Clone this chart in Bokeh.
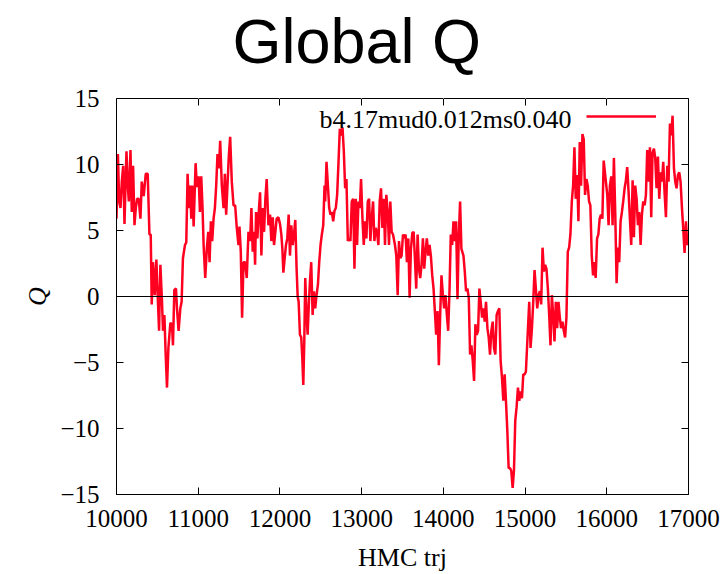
from bokeh.plotting import figure
from bokeh.models import Range1d, Span, Label, Legend, LegendItem, LinearAxis, FixedTicker
from bokeh.embed import file_html
from bokeh.resources import INLINE

# HMC trajectory number and the global topological charge Q
trj = [
    10000, 10017, 10033, 10049, 10065, 10082, 10098, 10110, 10122, 10138,
    10151, 10171, 10187, 10203, 10220, 10236, 10252, 10272, 10293, 10309,
    10333, 10358, 10382, 10403, 10419, 10431, 10447, 10468, 10488, 10504,
    10521, 10537, 10557, 10569, 10586, 10602, 10618, 10635, 10659, 10679,
    10691, 10708, 10728, 10740, 10760, 10781, 10797, 10813, 10838,
    10854, 10870, 10887, 10903, 10915, 10927, 10944, 10968, 10984, 11005,
    11021, 11037, 11053, 11066, 11086, 11106, 11123, 11139, 11155, 11171,
    11188, 11204, 11220, 11236, 11253, 11269, 11289, 11310, 11326, 11342,
    11358, 11375, 11391, 11411, 11432, 11452, 11472, 11493, 11505, 11521,
    11537, 11554, 11574, 11594, 11615, 11635, 11651, 11667, 11684, 11696,
    11708, 11724, 11741, 11757, 11773, 11790, 11806, 11822, 11838, 11859,
    11879, 11895, 11912, 11928, 11944, 11960, 11981, 12001, 12017, 12030,
    12042, 12058, 12074, 12090, 12107, 12123, 12139, 12156, 12172, 12188,
    12204, 12217, 12229, 12245, 12261, 12274, 12286, 12298, 12310, 12326,
    12339, 12355, 12367, 12383, 12400, 12416, 12432, 12448, 12465, 12481,
    12497, 12513, 12530, 12546,
    12554, 12570, 12587, 12603, 12619, 12635, 12652, 12668, 12684, 12700,
    12717, 12733, 12749, 12766, 12782, 12798, 12814, 12831, 12847, 12863,
    12879, 12896, 12912, 12928, 12944, 12961, 12977, 12993, 13010, 13026,
    13042, 13058, 13075, 13091, 13107, 13123, 13140, 13156, 13172, 13188,
    13205, 13221, 13237, 13254, 13270, 13286, 13302, 13319, 13335, 13351,
    13367, 13384,
    13408, 13424, 13441, 13457, 13473, 13489, 13506, 13522, 13538, 13554,
    13571, 13587, 13603, 13620, 13636, 13652, 13668, 13685, 13701, 13717,
    13733, 13750, 13766, 13782, 13798, 13815, 13831, 13847, 13864, 13880,
    13896, 13912, 13929, 13945, 13961, 13977, 13994, 14010, 14026, 14043,
    14059, 14075, 14091, 14108, 14124, 14140, 14156, 14173, 14189, 14205,
    14221,
    14246, 14262, 14278, 14295, 14311, 14327, 14343, 14360, 14376, 14392,
    14408, 14425, 14441, 14457, 14474, 14490, 14506, 14522, 14539, 14555,
    14571, 14587, 14604, 14620, 14636, 14652, 14669, 14685, 14701, 14718,
    14734, 14750, 14766, 14783, 14799, 14815, 14831, 14848, 14864, 14880,
    14896, 14913, 14929, 14945, 14962, 14978, 14994, 15010,
    15051, 15067, 15084, 15100, 15116, 15132, 15149, 15165, 15181, 15197,
    15214, 15230, 15246, 15262, 15279, 15295, 15311, 15328, 15344, 15360,
    15376, 15393, 15409, 15425, 15441, 15458, 15474, 15490, 15506, 15523,
    15539, 15555, 15572, 15588, 15604, 15620, 15637, 15653, 15669, 15685,
    15702, 15718, 15734, 15751, 15767, 15783, 15799, 15816, 15832, 15848,
    15864, 15881, 15897, 15913, 15929, 15946, 15962,
    16006, 16022, 16038, 16055, 16071, 16087, 16104, 16120, 16136, 16152,
    16169, 16185, 16201, 16218, 16234, 16250, 16267, 16283, 16299, 16316,
    16332, 16348, 16365, 16381, 16397, 16414, 16430, 16446, 16463, 16479,
    16495, 16512, 16528, 16544, 16560, 16577, 16593, 16609, 16626, 16642,
    16658, 16675, 16691, 16707, 16724, 16740, 16756, 16773, 16789, 16805,
    16822, 16838, 16854, 16871, 16887, 16903, 16920, 16936, 16952, 16969,
    16985, 17000,
]

charge = [
    5.9, 10.8, 7.2, 6.7, 8.7, 9.9, 5.5, 8.4, 11.0, 8.4,
    7.2, 11.1, 6.4, 9.9, 5.4, 6.7, 7.4, 7.4, 5.9, 8.7,
    7.6, 9.3, 9.3, 4.7, 4.7, -0.6, 2.6, 0.1, 2.8, 0.1,
    -2.6, 2.4, -0.4, -2.6, -1.4, -4.4, -6.9, -3.9, -2.0, -2.1,
    -3.7, 0.5, 0.6, -0.9, -2.6, -0.9, -0.4, 2.9, 3.9,
    4.1, 9.3, 6.7, 8.4, 5.9, 8.4, 5.3, 10.1, 8.3, 9.1,
    6.4, 9.1, 6.7, 3.9, 1.4, 3.7, 4.9, 2.6, 5.7, 4.2,
    5.9, 6.7, 8.4, 10.8, 9.7, 11.8, 8.4, 6.7, 9.3, 6.2,
    8.4, 10.7, 12.1, 8.7, 6.9, 6.9, 5.2, 3.9, 5.3, 3.4,
    -1.6, 2.6, 2.6, 1.4, 4.9, 4.2, 6.7, 3.4, 4.9, 2.4,
    6.4, 4.4, 6.4, 7.9, 3.1, 6.7, 4.9, 7.4, 8.9, 5.4,
    6.2, 4.2, 6.0, 3.9, 4.9, 5.9, 6.0, 5.5, 4.7, 3.6,
    1.8, 2.9, 3.9, 4.4, 6.2, 3.1, 5.4, 3.9, 4.7, 5.8,
    2.1, 0.0, -0.4, -2.9, -3.1, -4.7, -6.7, -3.4, 1.4, -1.4,
    -2.9, -0.4, 1.1, 2.6, -1.4, 0.4, -0.9, 0.1, 0.9, 2.6,
    3.9, 4.7, 5.4, 8.4,
    7.2, 10.2, 8.4, 6.7, 6.2, 6.4, 5.7, 6.5, 6.7, 7.7,
    10.2, 12.7, 12.2, 12.8, 11.0, 8.2, 8.9, 4.2, 4.4, 4.2,
    7.2, 7.4, 2.1, 7.4, 3.9, 7.2, 6.7, 8.9, 5.9, 3.9,
    5.7, 4.4, 7.2, 7.4, 4.2, 5.9, 7.2, 4.2, 5.2, 4.9,
    3.9, 7.2, 8.2, 5.2, 7.4, 3.9, 7.7, 6.4, 3.9, 7.2,
    4.9, 4.7,
    3.9, 3.1, 0.1, 4.2, 2.9, 3.1, 4.7, 4.4, 4.7, 2.6,
    4.4, -0.1, 3.6, 4.8, 4.9, 2.9, 0.6, 4.7, 2.1, 1.4,
    2.4, 4.4, 2.1, 3.4, 4.4, 3.1, 3.9, 3.1, 1.6, 0.6,
    -1.1, -2.9, -1.1, -5.2, -1.4, 1.6, 0.1, -0.9, 0.1, -1.4,
    -2.6, 0.4, 4.7, 3.9, 5.7, 4.2, 5.7, -0.2, 4.7, 7.2,
    3.6,
    3.1, 1.9, 0.4, 0.6, -0.1, -4.4, -3.7, -4.9, -6.4, -2.1,
    -2.9, -2.6, 0.6, -0.4, -1.6, -0.9, -1.9, -0.4, -2.4, -3.1,
    -4.4, -2.6, -1.9, -3.9, -4.4, -1.4, -1.1, -0.9, -4.9, -6.2,
    -7.9, -5.9, -7.9, -10.2, -13.0, -13.0, -13.2, -14.5, -13.2, -9.4,
    -8.4, -6.9, -7.9, -7.2, -7.7, -5.9, -5.9, -5.7,
    -0.4, -3.9, -2.4, -0.4, 2.0, 0.6, -0.9, 0.1, 0.4, -0.6,
    3.7, 1.9, 2.4, 2.1, 0.6, -1.4, -3.7, 0.1, -1.4, -3.4,
    -0.4, -2.4, -0.4, -1.6, -2.4, -1.9, -2.6, -3.1, -1.6, 3.4,
    3.7, 4.7, 7.2, 8.4, 11.3, 7.4, 9.2, 5.7, 11.7, 8.4,
    12.3, 11.9, 7.7, 8.9, 8.4, 7.2, 6.9, 3.1, 1.6, 2.6,
    1.4, 4.4, 4.7, 5.9, 6.2, 5.9, 10.3,
    7.7, 5.4, 8.4, 9.1, 5.4, 10.5, 6.2, 1.0, 3.7, 2.6,
    5.7, 6.4, 7.2, 8.2, 8.8, 9.8, 7.9, 5.9, 3.9, 8.8,
    4.5, 8.4, 7.4, 5.4, 6.4, 3.9, 6.2, 7.2, 6.9, 7.7,
    11.1, 8.7, 11.3, 6.0, 10.9, 11.2, 10.5, 8.2, 10.6, 7.4,
    9.4, 8.7, 10.2, 7.9, 6.0, 9.9, 8.7, 13.1, 12.2, 13.7,
    9.7, 8.7, 8.2, 9.2, 9.4, 8.7, 6.7, 5.1, 3.3, 5.7,
    3.9, 4.2,
]

x_ticks = [10000, 11000, 12000, 13000, 14000, 15000, 16000, 17000]
y_ticks = [-15, -10, -5, 0, 5, 10, 15]
series_name = "b4.17mud0.012ms0.040"
chart_title = "Global Q"

SERIF = "Liberation Serif"
LINE_RED = "#ff0020"

p = figure(
    width=724, height=574,
    output_backend="svg", toolbar_location=None,
    x_range=Range1d(10000, 17000), y_range=Range1d(-15, 15),
    min_border_left=116, min_border_right=36,
    min_border_top=97, min_border_bottom=80,
)
p.background_fill_color = "white"
p.border_fill_color = "white"
p.outline_line_color = "black"
p.outline_line_width = 1
p.xgrid.visible = False
p.ygrid.visible = False

# Title, shifted so it sits over the middle of the canvas
p.title.text = chart_title
p.title.text_font = "Liberation Sans"
p.title.text_font_size = "63px"
p.title.text_font_style = "normal"
p.title.text_color = "black"
p.title.align = "left"
p.title.offset = 116
p.title.standoff = 6

xa = p.xaxis[0]
xa.ticker = FixedTicker(ticks=x_ticks)
ya = p.yaxis[0]
ya.ticker = FixedTicker(ticks=y_ticks)
for ax in (xa, ya):
    ax.major_tick_in = 7
    ax.major_tick_out = 0
    ax.minor_tick_line_color = None
    ax.axis_line_color = "black"
    ax.major_tick_line_color = "black"
    ax.major_label_text_font = SERIF
    ax.major_label_text_font_size = "25px"
    ax.major_label_text_color = "black"
    ax.axis_label_text_font = SERIF
    ax.axis_label_text_font_size = "26px"
    ax.axis_label_text_font_style = "normal"
    ax.axis_label_text_color = "black"

xa.axis_label = "HMC trj"
xa.major_label_standoff = 15
xa.axis_label_standoff = 13
ya.axis_label = "Q"
ya.axis_label_text_font_style = "italic"
ya.major_label_standoff = 17
ya.axis_label_standoff = 5

# Mirrored tick marks on the top and right borders (no labels)
top = LinearAxis(ticker=FixedTicker(ticks=x_ticks),
                 major_label_overrides={t: "" for t in x_ticks})
right = LinearAxis(ticker=FixedTicker(ticks=y_ticks),
                   major_label_overrides={t: "" for t in y_ticks})
for ax in (top, right):
    ax.major_tick_in = 7
    ax.major_tick_out = 0
    ax.minor_tick_line_color = None
    ax.axis_line_color = "black"
    ax.major_tick_line_color = "black"
    ax.major_label_standoff = 0
p.add_layout(top, "above")
p.add_layout(right, "right")

# Blank axis (white outward ticks, no line, no labels) that adds space
# between the top border and the title
gap = LinearAxis(ticker=FixedTicker(ticks=x_ticks),
                 major_label_overrides={t: "" for t in x_ticks},
                 axis_line_color=None, major_tick_in=0, major_tick_out=20,
                 major_tick_line_color="white", minor_tick_line_color=None,
                 major_label_standoff=0)
p.add_layout(gap, "above")

# Zero reference line
p.add_layout(Span(location=0, dimension="width", line_color="black", line_width=1))

series = p.line(trj, charge, line_color=LINE_RED, line_width=2.5)

# Key: label text on the left, line sample on the right
p.add_layout(Label(
    x=15569, y=13.4, text=series_name,
    text_align="right", text_baseline="middle",
    text_font=SERIF, text_font_size="26px", text_color="black",
))
legend = Legend(
    items=[LegendItem(label=" ", renderers=[series])],
    location=(470, 368),
    glyph_width=70, glyph_height=20,
    label_width=0, label_standoff=0, label_text_font_size="1px",
    padding=0, margin=0, spacing=0,
    border_line_color=None, background_fill_alpha=0,
)
p.add_layout(legend)

open("out.html", "w").write(file_html(p, INLINE))
